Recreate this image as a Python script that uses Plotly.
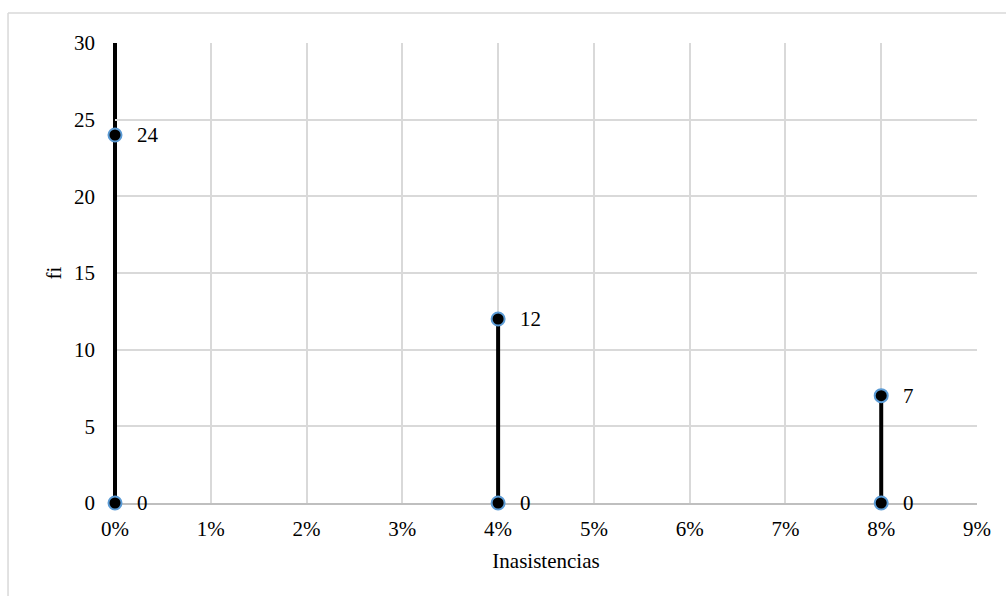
import plotly.graph_objects as go

# Frequency (fi) of each absence rate
inasistencias = [0.00, 0.04, 0.08]
fi = [24, 12, 7]

x_ticks = [0.00, 0.01, 0.02, 0.03, 0.04, 0.05, 0.06, 0.07, 0.08, 0.09]
y_ticks = [0, 5, 10, 15, 20, 25, 30]

FONT = "Liberation Serif"
FS = 21

fig = go.Figure()

# Heavy black vertical axis on the left edge of the plot area (x = 0),
# drawn above the grid but beneath the markers
fig.add_shape(type="line", xref="paper", yref="paper",
              x0=0, x1=0, y0=0, y1=1,
              line=dict(color="black", width=4), layer="between")

# One vertical stem per category, with a marker at both ends
for x, v in zip(inasistencias, fi):
    fig.add_trace(go.Scatter(
        x=[x, x], y=[0, v],
        mode="lines+markers",
        line=dict(color="black", width=4),
        marker=dict(size=13, color="black", line=dict(color="#5b9bd5", width=2)),
        cliponaxis=False,
        showlegend=False,
        hoverinfo="skip",
    ))
    for yy in (0, v):
        fig.add_annotation(
            x=x, y=yy, text=str(yy), showarrow=False,
            xanchor="left", yanchor="middle", xshift=20,
            font=dict(family=FONT, size=FS, color="black"),
        )

# Light frame around the chart area
fig.add_shape(type="line", xref="paper", yref="paper",
              x0=-0.1241, x1=1.2, y0=1.0652, y1=1.0652,
              line=dict(color="#d9d9d9", width=1.5))
fig.add_shape(type="line", xref="paper", yref="paper",
              x0=-0.1241, x1=-0.1241, y0=1.0652, y1=-0.5,
              line=dict(color="#d9d9d9", width=1.5))

fig.update_layout(
    width=1006, height=596,
    margin=dict(l=115, r=29, t=43, b=93),
    paper_bgcolor="white", plot_bgcolor="white",
    font=dict(family=FONT, size=FS, color="black"),
    xaxis=dict(
        range=[0, 0.09], tickvals=x_ticks, tickformat=".0%",
        showgrid=True, gridcolor="#d9d9d9", gridwidth=1.5,
        zeroline=False, showline=True, linecolor="#bfbfbf", linewidth=1.5,
        layer="below traces",
        ticks="", ticklabelstandoff=6,
        title=dict(text="Inasistencias", standoff=13,
                   font=dict(family=FONT, size=FS)),
        fixedrange=True,
    ),
    yaxis=dict(
        range=[0, 30], tickvals=y_ticks,
        showgrid=True, gridcolor="#d9d9d9", gridwidth=1.5,
        zeroline=False, showline=False,
        layer="below traces",
        ticks="", ticklabelstandoff=19,
        title=dict(text="fi", standoff=6,
                   font=dict(family=FONT, size=FS)),
        fixedrange=True,
    ),
)

fig.write_html("out.html")
